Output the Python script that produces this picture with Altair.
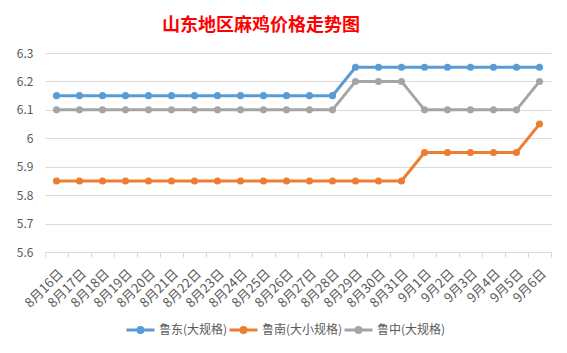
import altair as alt
import pandas as pd

dates = ["8月16日", "8月17日", "8月18日", "8月19日", "8月20日", "8月21日", "8月22日",
         "8月23日", "8月24日", "8月25日", "8月26日", "8月27日", "8月28日", "8月29日",
         "8月30日", "8月31日", "9月1日", "9月2日", "9月3日", "9月4日", "9月5日", "9月6日"]
series_names = ["鲁东(大规格)", "鲁南(大小规格)", "鲁中(大规格)"]
ludong = [6.15] * 13 + [6.25] * 9
lunan = [5.85] * 16 + [5.95] * 5 + [6.05]
luzhong = [6.1] * 13 + [6.2] * 3 + [6.1] * 5 + [6.2]
colors = ["#5B9BD5", "#ED7D31", "#A5A5A5"]
y_ticks = [5.6, 5.7, 5.8, 5.9, 6.0, 6.1, 6.2, 6.3]

rows = []
for name, vals in zip(series_names, [ludong, lunan, luzhong]):
    for d, v in zip(dates, vals):
        rows.append({"date": d, "series": name, "price": v})
df = pd.DataFrame(rows)

FONT = "Noto Sans CJK SC"
TXT = "#595959"

x = alt.X("date:N", sort=dates, title=None,
          scale=alt.Scale(paddingInner=0, paddingOuter=0),
          axis=alt.Axis(labelAngle=-45, labelFontSize=13, labelColor=TXT, labelFont=FONT,
                        domainColor="#d9d9d9", tickColor="#d9d9d9", tickSize=5,
                        tickBand="extent", grid=False, labelPadding=10))
y = alt.Y("price:Q", title=None,
          scale=alt.Scale(domain=[5.6, 6.3], nice=False, zero=False),
          axis=alt.Axis(values=y_ticks, format=".1~f", domain=False, ticks=False,
                        gridColor="#d9d9d9", labelFontSize=12, labelColor=TXT,
                        labelFont=FONT, labelPadding=12))

sym = "M-1,0L1,0M-0.18,0A0.18,0.18,0,1,1,0.18,0A0.18,0.18,0,1,1,-0.18,0Z"
color = alt.Color("series:N", sort=series_names,
                  scale=alt.Scale(domain=series_names, range=colors),
                  legend=alt.Legend(title=None, orient="none", direction="horizontal",
                                    legendX=80, legendY=261, symbolType=sym,
                                    symbolSize=784, symbolStrokeWidth=3,
                                    labelFontSize=12, labelColor=TXT, labelFont=FONT,
                                    labelOffset=3, columnPadding=-12))

lines = alt.Chart(df).mark_line(strokeWidth=3).encode(x=x, y=y, color=color)
points = alt.Chart(df).mark_circle(size=50, opacity=1).encode(
    x=x, y=y, color=alt.Color("series:N", sort=series_names,
                              scale=alt.Scale(domain=series_names, range=colors), legend=None))

chart = alt.layer(lines, points).properties(
    width=506, height=199,
    autosize=alt.AutoSizeParams(type="none"),
    padding={"left": 45, "top": 53, "right": 16, "bottom": 101},
    background="white",
    title=alt.TitleParams("山东地区麻鸡价格走势图", color="#FF0000", fontSize=18,
                          fontWeight="bold", font=FONT, anchor="middle", frame="group",
                          dx=-37, offset=12),
).configure_view(stroke=None)

chart.save("out.html", embed_options={"renderer": "svg", "actions": False})
